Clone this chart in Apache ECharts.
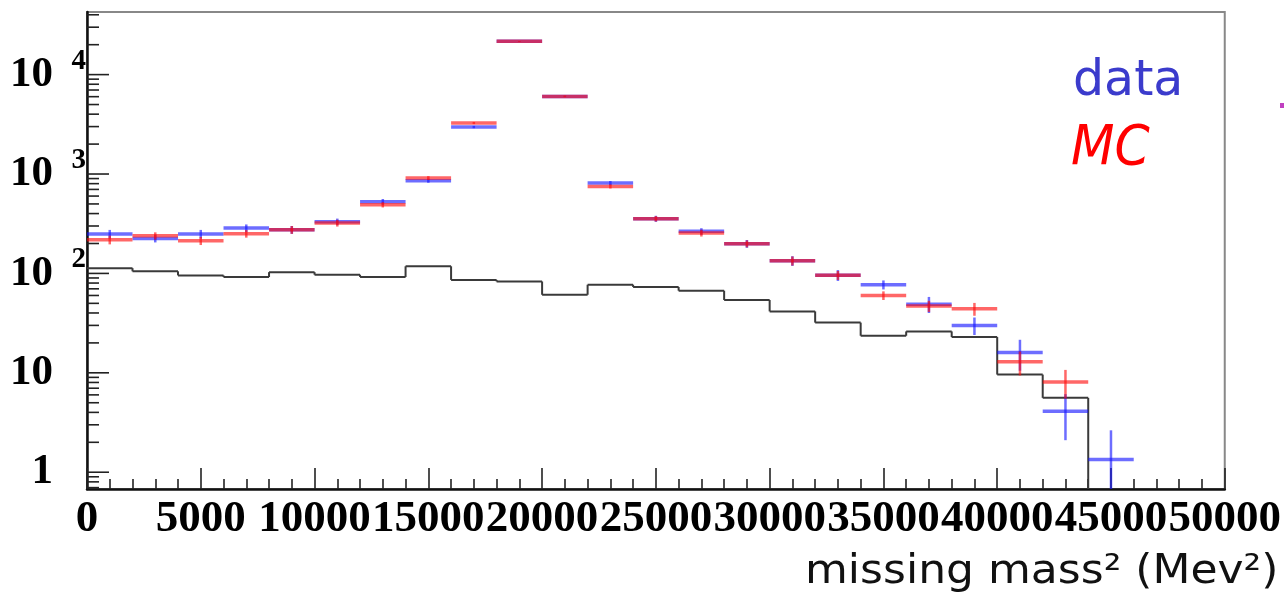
<!DOCTYPE html>
<html>
<head>
<meta charset="utf-8">
<script src="https://cdn.jsdelivr.net/npm/echarts@6/dist/echarts.min.js"></script>
<style>
  html, body { margin: 0; padding: 0; background: #fff; }
  #chart { width: 1284px; height: 598px; }
</style>
</head>
<body>
<div id="chart"></div>
<script>
// bins of missing mass^2 (MeV^2), 2000 wide, left edges
const binStart = [0, 2000, 4000, 6000, 8000, 10000, 12000, 14000, 16000, 18000, 20000, 22000,
  24000, 26000, 28000, 30000, 32000, 34000, 36000, 38000, 40000, 42000, 44000]
const binWidth = 2000

const dataCounts = [249, 225, 249, 286, 275, 331, 526, 857, 2970, 21600, 6040, 811,
  355, 265, 199, 134, 96, 77, 49, 30, 16, 4.1, 1.34]
const dataErr = [25, 20, 25, 25, 25, 25, 35, 40, 80, 200, 100, 40,
  25, 20, 18, 15, 12, 8, 9, 6, 5.5, 2.0, 1.3]

const mcCounts = [218, 239, 213, 251, 275, 321, 491, 912, 3260, 21600, 6040, 750,
  355, 255, 199, 134, 96, 60, 47, 44, 12.9, 8.1, null]
const mcErr = [22, 20, 20, 22, 25, 25, 30, 40, 80, 200, 100, 35,
  22, 20, 16, 14, 10, 6, 6, 6.5, 3.5, 2.6, 0]

const bkgCounts = [113, 105, 95.5, 92, 103, 97, 92, 118, 86, 83, 61, 77,
  73, 67, 54, 41.5, 32, 23.6, 26.1, 22.9, 9.6, 5.6, 0]

const xTicks = [0, 5000, 10000, 15000, 20000, 25000, 30000, 35000, 40000, 45000, 50000]
const yMajor = [1, 10, 100, 1000, 10000]
const yExpLabels = [[100, '2'], [1000, '3'], [10000, '4']]
const yMinor = []
for (let k = -1; k <= 4; k++) {
  for (let m = 2; m <= 9; m++) {
    const v = m * Math.pow(10, k)
    if (v > 0.678 && v < 42650) yMinor.push(v)
  }
}

const chart = echarts.init(document.getElementById('chart'))

function crossItem(color) {
  return function (params, api) {
    const x0 = api.value(0)
    const v = api.value(1)
    const e = api.value(2)
    if (!(v > 0)) return null
    const cs = params.coordSys
    const bottom = cs.y + cs.height
    const pa = api.coord([x0, v])
    const pb = api.coord([x0 + binWidth, v])
    const xc = api.coord([x0 + binWidth / 2, v])[0]
    const yTop = api.coord([x0 + binWidth / 2, v + e])[1]
    const lo = v - e
    let yBot = lo > 0.678 ? api.coord([x0 + binWidth / 2, lo])[1] : bottom
    if (yBot > bottom) yBot = bottom
    return {
      type: 'group',
      children: [
        { type: 'line', shape: { x1: pa[0], y1: pa[1], x2: pb[0], y2: pb[1] },
          style: { stroke: color, lineWidth: 3.5 } },
        { type: 'line', shape: { x1: xc, y1: Math.max(yTop, cs.y), x2: xc, y2: yBot },
          style: { stroke: color, lineWidth: 2.5 } }
      ]
    }
  }
}

function bkgItem(params, api) {
  const i = params.dataIndex
  const cs = params.coordSys
  const bottom = cs.y + cs.height
  const x0 = binStart[i]
  const v = bkgCounts[i]
  const children = []
  const yv = v > 0 ? api.coord([x0, v])[1] : bottom
  const xa = api.coord([x0, 1])[0]
  const xb = api.coord([x0 + binWidth, 1])[0]
  if (v > 0) {
    children.push({ type: 'line', shape: { x1: xa, y1: yv, x2: xb, y2: yv },
      style: { stroke: '#3a3a3a', lineWidth: 2 } })
  }
  if (i > 0) {
    const yp = api.coord([x0, bkgCounts[i - 1]])[1]
    children.push({ type: 'line', shape: { x1: xa, y1: yp, x2: xa, y2: yv },
      style: { stroke: '#3a3a3a', lineWidth: 2 } })
  }
  return { type: 'group', children }
}

function yTickItem(len) {
  return function (params, api) {
    const y = api.coord([0, api.value(0)])[1]
    const x = params.coordSys.x
    return { type: 'line', shape: { x1: x, y1: y, x2: x + len, y2: y },
      style: { stroke: '#222', lineWidth: 1.6 } }
  }
}

// exponent of the 10^n labels, placed next to the tick
function yExpItem(params, api) {
  const y = api.coord([0, api.value(0)])[1]
  return {
    type: 'text',
    x: params.coordSys.x - 1,
    y: y - 28,
    style: {
      text: yExpLabels[params.dataIndex][1],
      font: 'bold 29px "Liberation Serif"',
      fill: '#000',
      align: 'right',
      verticalAlign: 'top'
    }
  }
}

const serifBold = { fontFamily: 'Liberation Serif', fontWeight: 'bold', color: '#000' }

const option = {
  backgroundColor: '#fff',
  animation: false,
  grid: {
    left: 87, top: 12, right: 58, bottom: 109,
    show: true, borderColor: '#888', borderWidth: 2, backgroundColor: 'transparent'
  },
  xAxis: {
    type: 'value', min: 0, max: 50000, interval: 5000,
    axisLine: { show: true, lineStyle: { color: '#111', width: 2.5 } },
    axisTick: { show: true, inside: true, length: 21, lineStyle: { color: '#222', width: 1.6 } },
    minorTick: { show: true, splitNumber: 5, length: 10, lineStyle: { color: '#222', width: 1.6 } },
    splitLine: { show: false },
    axisLabel: {
      ...serifBold, fontSize: 45, margin: 8,
      formatter: (v) => (xTicks.includes(v) ? String(v) : '')
    }
  },
  yAxis: {
    type: 'log', logBase: 10, min: 0.678, max: 42650,
    axisLine: { show: true, lineStyle: { color: '#111', width: 2.5 } },
    axisTick: { show: false },
    splitLine: { show: false },
    axisLabel: {
      ...serifBold, fontSize: 43, margin: 34, showMinLabel: false, showMaxLabel: false,
      formatter: (v) => (Math.round(Math.log10(v)) === 0 ? '1' : '10')
    }
  },
  series: [
    { type: 'custom', name: 'ymajor', data: yMajor.map((v) => [v]), encode: { y: 0 },
      renderItem: yTickItem(22), silent: true, z: 5 },
    { type: 'custom', name: 'yminor', data: yMinor.map((v) => [v]), encode: { y: 0 },
      renderItem: yTickItem(12), silent: true, z: 5 },
    { type: 'custom', name: 'yexp', data: yExpLabels.map((d) => [d[0]]), encode: { y: 0 },
      renderItem: yExpItem, silent: true, clip: false, z: 5 },
    { type: 'custom', name: 'background', data: binStart.map((x, i) => [x, bkgCounts[i]]),
      encode: { x: 0, y: 1 }, renderItem: bkgItem, clip: true, z: 2 },
    { type: 'custom', name: 'data',
      data: binStart.map((x, i) => [x, dataCounts[i], dataErr[i]]),
      encode: { x: 0, y: 1 }, renderItem: crossItem('rgba(20,20,255,0.62)'), clip: true, z: 3 },
    { type: 'custom', name: 'MC',
      data: binStart.map((x, i) => [x, mcCounts[i], mcErr[i]]),
      encode: { x: 0, y: 1 }, renderItem: crossItem('rgba(255,10,10,0.62)'), clip: true, z: 4 }
  ],
  graphic: [
    { type: 'text', x: 1073, y: 58,
      style: { text: 'data', fill: '#3b3bcc', font: '49px "DejaVu Sans"' } },
    { type: 'text', x: 1071, y: 121, scaleX: 0.9,
      style: { text: 'MC', fill: '#ff0000', font: 'italic 56px "DejaVu Sans"' } },
    { type: 'text', x: 805, y: 553, scaleX: 1.1,
      style: { text: 'missing mass² (Mev²)', fill: '#111', font: '40px "DejaVu Sans"' } },
    { type: 'rect', x: 1280, y: 103, shape: { width: 4, height: 5 }, style: { fill: '#c040c0' } }
  ]
}

chart.setOption(option)
</script>
</body>
</html>
